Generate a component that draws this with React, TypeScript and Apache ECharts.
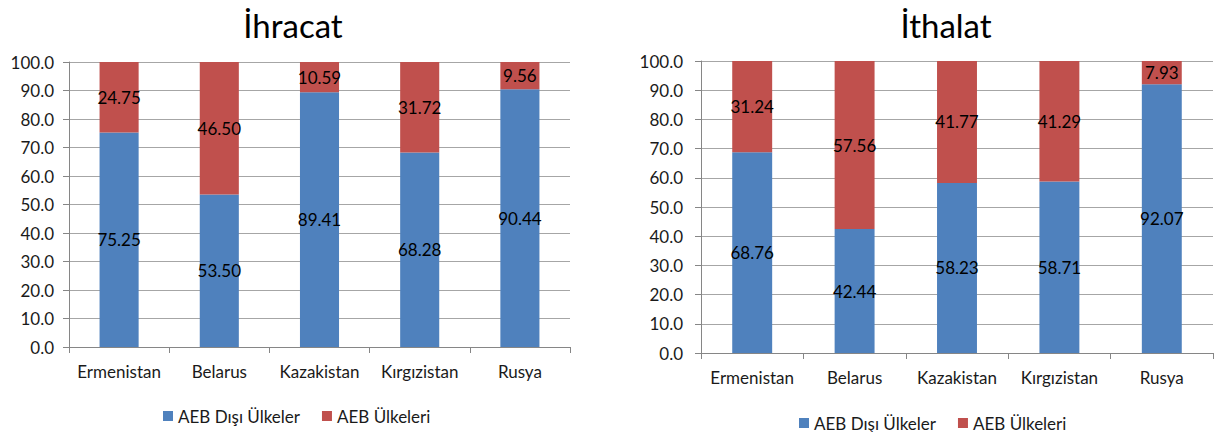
import React, { useEffect, useRef } from "react";
import * as echarts from "echarts";

const categories = ["Ermenistan", "Belarus", "Kazakistan", "Kırgızistan", "Rusya"];
const seriesNames = ["AEB Dışı Ülkeler", "AEB Ülkeleri"];
const ihracatDisi = [75.25, 53.5, 89.41, 68.28, 90.44];
const ihracatAeb = [24.75, 46.5, 10.59, 31.72, 9.56];
const ithalatDisi = [68.76, 42.44, 58.23, 58.71, 92.07];
const ithalatAeb = [31.24, 57.56, 41.77, 41.29, 7.93];
const titles = ["İhracat", "İthalat"];

const BLUE = "#4F81BD";
const RED = "#C0504D";
const FONT = "Lato";
const TEXT = "#1a1a1a";

export default function App() {
  const ref = useRef<HTMLDivElement>(null);
  useEffect(() => {
    document.body.style.margin = "0";
    if (!ref.current) return;
    const chart = echarts.init(ref.current, null, { renderer: "svg" });

    const yAxis = (gridIndex: number, margin: number) => ({
      type: "value",
      gridIndex,
      min: 0,
      max: 100,
      interval: 10,
      axisLine: { show: true, lineStyle: { color: "#868686", width: 1 } },
      axisTick: { show: true, length: 6, lineStyle: { color: "#868686" } },
      splitLine: { show: true, lineStyle: { color: "#A6A6A6", width: 1 } },
      axisLabel: {
        formatter: (v: number) => v.toFixed(1),
        color: TEXT,
        fontFamily: FONT,
        fontSize: 17,
        margin,
      },
    });
    const xAxis = (gridIndex: number, margin: number) => ({
      type: "category",
      gridIndex,
      data: categories,
      axisLine: { show: true, lineStyle: { color: "#868686", width: 1 } },
      axisTick: { show: true, length: 6, interval: 0, lineStyle: { color: "#868686" } },
      axisLabel: {
        interval: 0,
        color: TEXT,
        fontFamily: FONT,
        fontSize: 17,
        margin,
      },
    });
    const label = {
      show: true,
      position: "inside",
      color: "#000",
      fontFamily: FONT,
      fontSize: 17,
      formatter: (p: any) => Number(p.value).toFixed(2),
    };
    const bar = (name: string, data: number[], idx: number, stack: string, color: string) => ({
      name,
      type: "bar",
      stack,
      xAxisIndex: idx,
      yAxisIndex: idx,
      data,
      barWidth: "39%",
      itemStyle: { color },
      label,
    });
    const legend = (left: number, top: number) => ({
      data: seriesNames,
      left,
      top,
      icon: "rect",
      itemWidth: 10,
      itemHeight: 10,
      itemGap: 22,
      textStyle: { fontFamily: FONT, fontSize: 17, lineHeight: 18, color: TEXT },
      selectedMode: false,
    });
    const title = (text: string, left: number) => ({
      text,
      left,
      top: 3,
      textAlign: "center",
      textStyle: { fontFamily: FONT, fontSize: 33, fontWeight: "normal", color: "#000" },
    });

    chart.setOption({
      animation: false,
      title: [title(titles[0], 288), title(titles[1], 941)],
      legend: [legend(158, 402), legend(794, 409)],
      grid: [
        { left: 69, width: 501, top: 62, height: 285 },
        { left: 701, width: 512, top: 61, height: 292 },
      ],
      xAxis: [xAxis(0, 16), xAxis(1, 16)],
      yAxis: [yAxis(0, 15), yAxis(1, 18)],
      series: [
        bar(seriesNames[0], ihracatDisi, 0, "a", BLUE),
        bar(seriesNames[1], ihracatAeb, 0, "a", RED),
        bar(seriesNames[0], ithalatDisi, 1, "b", BLUE),
        bar(seriesNames[1], ithalatAeb, 1, "b", RED),
      ],
    });
    return () => chart.dispose();
  }, []);
  return <div ref={ref} style={{ width: 1216, height: 432 }} />;
}
